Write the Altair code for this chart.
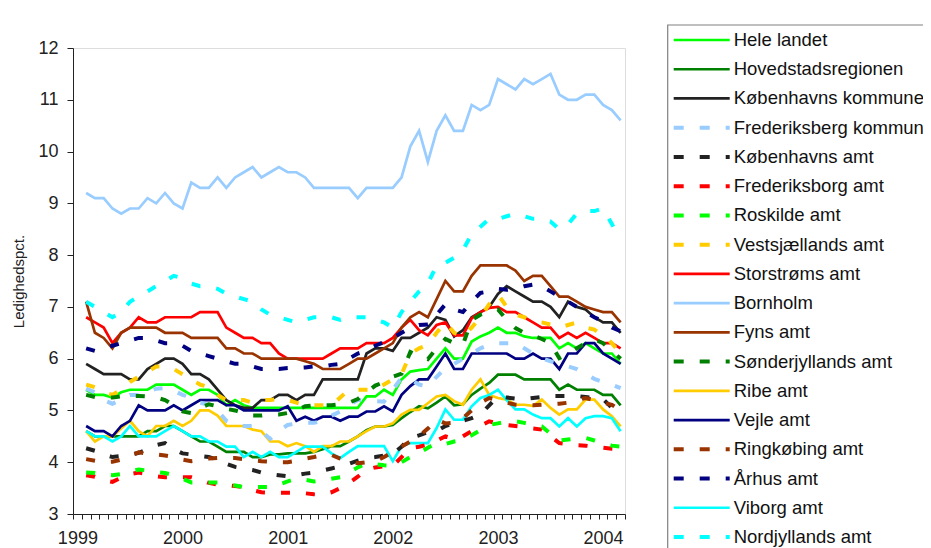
import altair as alt
import pandas as pd

# ---- data (monthly, category index 1..62) ----
hele_landet = [5.4,5.3,5.3,5.25,5.35,5.4,5.4,5.4,5.5,5.5,5.5,5.4,5.3,5.4,5.4,5.3,5.1,5.2,5.1,5.05,5.05,5.05,5.05,5.05,5.05,5.05,5.05,
               5.05,5.05,5.05,5.05,5.05,5.27,5.27,5.4,5.3,5.6,5.75,5.78,5.8,6.0,6.2,6.0,6.0,6.33,6.43,6.5,6.6,6.5,6.5,6.43,6.4,6.4,6.4,6.2,6.3,6.2,6.3,6.2,6.1,6.1,5.9]
hovedstad = [4.6,4.5,4.5,4.5,4.5,4.5,4.5,4.6,4.6,4.7,4.7,4.6,4.5,4.4,4.4,4.3,4.2,4.2,4.2,4.1,4.1,4.15,4.15,4.17,4.17,4.17,4.2,
             4.25,4.31,4.31,4.4,4.5,4.62,4.69,4.69,4.72,4.85,4.97,5.08,5.04,5.15,5.27,5.1,5.12,5.3,5.42,5.53,5.69,5.69,5.69,5.6,5.6,5.6,5.6,5.4,5.5,5.4,5.4,5.4,5.3,5.3,5.1]
kbh_kommune = [5.9,5.8,5.7,5.7,5.7,5.6,5.6,5.8,5.9,6.0,6.0,5.9,5.7,5.7,5.6,5.4,5.2,5.1,5.05,5.05,5.2,5.2,5.3,5.3,5.2,5.3,5.3,
               5.6,5.6,5.6,5.6,5.6,6.1,6.2,6.2,6.15,6.4,6.4,6.5,6.6,6.8,6.75,6.43,6.55,6.8,6.9,7.0,7.25,7.4,7.3,7.2,7.1,7.1,7.0,6.8,7.1,7.0,6.95,6.8,6.7,6.7,6.5]
frb_kommune = [5.42,5.35,5.2,5.13,5.2,5.3,5.3,5.35,5.42,5.43,5.38,5.3,5.25,5.15,5.11,5.0,4.8,4.72,4.7,4.7,4.6,4.45,4.6,4.72,4.75,4.76,4.76,
               4.8,4.9,4.98,5.1,5.2,5.2,5.18,5.17,5.4,5.63,5.6,5.5,5.46,5.65,5.82,5.9,6.0,6.1,6.2,6.27,6.3,6.3,6.3,6.2,6.1,6.01,5.95,5.9,5.85,5.8,5.7,5.61,5.55,5.5,5.43]
kbh_amt = [4.27,4.22,4.15,4.1,4.12,4.15,4.18,4.25,4.33,4.37,4.25,4.17,4.15,4.12,4.1,4.05,3.97,3.91,3.88,3.85,3.8,3.77,3.75,3.73,3.75,3.78,3.8,
           3.84,3.88,3.92,3.97,4.03,4.08,4.1,4.13,4.16,4.3,4.47,4.52,4.58,4.6,4.7,4.75,4.8,4.85,4.92,5.1,5.27,5.25,5.23,5.22,5.24,5.26,5.28,5.28,5.28,5.28,5.26,5.24,5.22,5.05,4.85]
frb_amt = [3.75,3.72,3.65,3.62,3.7,3.77,3.8,3.77,3.73,3.71,3.71,3.71,3.71,3.66,3.6,3.57,3.56,3.54,3.52,3.46,3.42,3.41,3.41,3.41,3.41,3.4,3.38,
           3.37,3.42,3.5,3.6,3.72,3.86,3.9,3.92,3.93,4.1,4.27,4.3,4.34,4.42,4.5,4.45,4.5,4.6,4.7,4.79,4.75,4.72,4.7,4.68,4.65,4.63,4.5,4.37,4.35,4.33,4.32,4.3,4.28,4.26,4.25]
roskilde = [3.8,3.79,3.76,3.75,3.77,3.82,3.86,3.84,3.81,3.79,3.75,3.68,3.61,3.61,3.61,3.61,3.58,3.55,3.52,3.52,3.52,3.52,3.57,3.63,3.68,3.66,3.63,
            3.65,3.68,3.71,3.8,3.9,3.98,3.96,3.94,3.93,4.0,4.1,4.18,4.28,4.37,4.35,4.4,4.43,4.52,4.62,4.72,4.75,4.78,4.79,4.76,4.72,4.69,4.55,4.42,4.44,4.46,4.47,4.42,4.37,4.32,4.3]
vestsj = [5.5,5.45,5.35,5.3,5.4,5.55,5.65,5.75,5.85,5.85,5.8,5.7,5.6,5.5,5.45,5.3,5.2,5.2,5.2,5.15,5.2,5.2,5.22,5.2,5.15,5.1,5.1,
          5.1,5.1,5.25,5.4,5.4,5.4,5.4,5.5,5.6,5.7,6.1,6.2,6.27,6.5,6.7,6.5,6.43,6.6,6.8,7.05,7.24,7.0,6.85,6.8,6.72,6.7,6.66,6.6,6.65,6.7,6.6,6.56,6.45,6.3,6.1]
storstrom = [6.8,6.7,6.6,6.3,6.5,6.6,6.8,6.7,6.7,6.8,6.8,6.8,6.8,6.9,6.9,6.9,6.6,6.5,6.4,6.4,6.3,6.3,6.1,6.0,6.0,6.0,6.0,
             6.0,6.1,6.2,6.2,6.2,6.3,6.3,6.3,6.4,6.6,6.75,6.55,6.45,6.65,6.7,6.45,6.45,6.78,6.9,6.98,7.0,6.9,6.9,6.8,6.7,6.6,6.6,6.4,6.5,6.4,6.5,6.4,6.3,6.3,6.2]
bornholm = [9.2,9.1,9.1,8.9,8.8,8.9,8.9,9.1,9.0,9.2,9.0,8.9,9.4,9.3,9.3,9.5,9.3,9.5,9.6,9.7,9.5,9.6,9.7,9.6,9.6,9.5,9.3,
            9.3,9.3,9.3,9.3,9.1,9.3,9.3,9.3,9.3,9.5,10.1,10.4,9.8,10.4,10.7,10.4,10.4,10.9,10.8,10.9,11.4,11.3,11.2,11.4,11.3,11.4,11.5,11.1,11.0,11.0,11.1,11.1,10.9,10.8,10.6]
fyn = [7.1,6.5,6.4,6.2,6.5,6.6,6.6,6.6,6.6,6.5,6.5,6.5,6.4,6.4,6.4,6.4,6.2,6.2,6.1,6.1,6.0,6.0,6.0,6.0,6.0,5.95,5.9,
       5.8,5.8,5.8,5.9,6.0,6.0,6.1,6.2,6.3,6.6,6.8,6.9,6.8,7.15,7.5,7.3,7.3,7.6,7.8,7.8,7.8,7.8,7.7,7.5,7.6,7.6,7.4,7.2,7.2,7.1,7.0,6.95,6.9,6.9,6.7]
sonderjyl = [5.3,5.26,5.25,5.25,5.27,5.28,5.28,5.27,5.25,5.2,5.1,4.98,4.95,5.05,5.12,5.08,5.03,5.0,4.95,4.9,4.9,4.92,4.92,4.95,5.0,5.08,5.1,
             5.1,5.1,5.12,5.15,5.22,5.35,5.48,5.55,5.65,5.71,6.13,6.05,5.99,6.2,6.38,6.3,6.27,6.75,6.85,6.9,6.95,6.75,6.59,6.5,6.45,6.38,6.3,6.01,6.1,6.2,6.3,6.37,6.3,6.15,6.0]
ribe = [4.6,4.4,4.5,4.5,4.65,4.8,4.6,4.5,4.7,4.7,4.8,4.7,4.8,5.0,5.0,4.9,4.7,4.7,4.7,4.63,4.6,4.4,4.4,4.31,4.37,4.31,4.2,
        4.31,4.31,4.4,4.4,4.5,4.6,4.69,4.69,4.75,4.92,5.01,5.01,5.14,5.27,5.3,5.18,5.11,5.4,5.6,5.3,5.24,5.21,5.11,5.11,5.09,5.21,5.05,4.92,5.02,5.02,5.21,5.21,5.02,4.89,4.69]
vejle = [4.7,4.6,4.6,4.5,4.7,4.8,5.1,5.0,5.0,5.0,5.1,5.0,5.1,5.2,5.2,5.2,5.1,5.1,5.0,5.0,5.0,5.0,5.0,5.08,4.8,4.88,4.8,
         4.88,4.88,4.8,4.88,4.88,4.98,4.98,5.08,4.98,5.3,5.47,5.6,5.6,5.85,6.1,5.8,5.8,6.1,6.1,6.1,6.1,6.1,6.0,6.0,6.1,6.0,6.0,5.8,6.1,6.1,6.3,6.3,6.1,6.0,5.9]
ringkob = [4.06,4.03,4.0,4.01,4.05,4.12,4.19,4.17,4.15,4.13,4.1,4.05,4.02,4.04,4.07,4.08,4.08,4.08,4.06,4.04,4.02,4.01,4.0,4.0,4.03,4.07,4.1,
           4.14,4.14,4.07,4.0,3.98,4.0,4.02,4.1,4.2,4.3,4.4,4.5,4.65,4.82,4.75,4.76,4.85,5.0,5.15,5.24,5.2,5.15,5.11,5.1,5.1,5.11,5.12,5.13,5.15,5.2,5.24,5.2,5.15,5.11,5.0]
aarhus = [6.2,6.15,6.2,6.25,6.3,6.35,6.4,6.4,6.35,6.3,6.3,6.25,6.15,6.1,6.05,6.0,5.95,5.9,5.9,5.85,5.8,5.8,5.8,5.82,5.82,5.83,5.85,
          5.85,5.88,5.9,6.0,6.1,6.15,6.25,6.32,6.4,6.5,6.6,6.65,6.66,6.85,7.05,6.95,6.9,7.1,7.27,7.3,7.35,7.33,7.35,7.4,7.43,7.4,7.3,7.2,7.1,7.0,6.9,6.8,6.72,6.6,6.53]
viborg = [4.6,4.5,4.5,4.4,4.5,4.7,4.5,4.5,4.5,4.6,4.7,4.6,4.5,4.5,4.4,4.4,4.3,4.3,4.1,4.2,4.1,4.2,4.1,4.1,4.2,4.3,4.3,
          4.3,4.17,4.08,4.2,4.31,4.31,4.31,4.31,4.02,4.31,4.37,4.37,4.37,4.66,5.02,4.82,4.82,5.08,5.24,5.3,5.4,5.2,5.02,5.02,4.92,4.85,4.85,4.69,4.85,4.69,4.85,4.89,4.89,4.85,4.6]
nordjyl = [7.1,7.0,6.9,6.8,6.9,7.1,7.2,7.3,7.4,7.5,7.6,7.55,7.45,7.4,7.4,7.35,7.25,7.2,7.15,7.1,6.95,6.85,6.8,6.75,6.7,6.75,6.8,
           6.8,6.8,6.75,6.8,6.8,6.8,6.75,6.7,6.6,6.9,7.1,7.3,7.45,7.8,7.85,7.95,8.1,8.4,8.55,8.7,8.7,8.75,8.8,8.75,8.7,8.7,8.65,8.5,8.6,8.8,8.85,8.85,8.9,8.6,8.3]

series_names = ["Hele landet", "Hovedstadsregionen", "Københavns kommune", "Frederiksberg kommune",
                "Københavns amt", "Frederiksborg amt", "Roskilde amt", "Vestsjællands amt",
                "Storstrøms amt", "Bornholm", "Fyns amt", "Sønderjyllands amt", "Ribe amt",
                "Vejle amt", "Ringkøbing amt", "Århus amt", "Viborg amt", "Nordjyllands amt"]
series_colors = ["#00FF00", "#008000", "#222222", "#99CCFF", "#222222", "#FF0000", "#00FF00", "#FFCC00",
                 "#FF0000", "#99CCFF", "#993300", "#008000", "#FFCC00", "#000080", "#993300", "#000080",
                 "#00FFFF", "#00FFFF"]
series_dashed = [False, False, False, True, True, True, True, True, False, False, False, True, False,
                 False, True, True, False, True]
series_values = [hele_landet, hovedstad, kbh_kommune, frb_kommune, kbh_amt, frb_amt, roskilde, vestsj,
                 storstrom, bornholm, fyn, sonderjyl, ribe, vejle, ringkob, aarhus, viborg, nordjyl]
year_labels_start = 1999

rows = []
for i, (name, col, dsh, vals) in enumerate(zip(series_names, series_colors, series_dashed, series_values)):
    for k, v in enumerate(vals, start=1):
        rows.append({"series": name, "order": i, "x": k + 0.5, "v": v, "color": col, "dashed": dsh})
df = pd.DataFrame(rows)

leg = pd.DataFrame({"idx": list(range(len(series_names))), "series": series_names,
                    "color": series_colors, "dashed": series_dashed})
leg["x0"] = 0.0
leg["x1"] = 1.0

FONT = "Liberation Sans"
W, H = 552, 466
TOTAL_W, TOTAL_H = 915, 540

xscale = alt.Scale(domain=[0, 63], nice=False, zero=False)
yscale = alt.Scale(domain=[3, 12], nice=False, zero=False)

label_expr = ("datum.value % 12 == 0 ? toString(" + str(year_labels_start) +
              " + datum.value / 12) : ''")
xaxis = alt.Axis(values=list(range(0, 64)), tickSize=5, labelOffset=4.38, labelPadding=10,
                 labelExpr=label_expr,
                 labelOverlap=False, labelFlush=False, labelBound=False, grid=False, title=None,
                 labelFontSize=18, labelFont=FONT, labelColor="#222222",
                 domainColor="#222222", tickColor="#222222")
yaxis = alt.Axis(values=list(range(3, 13)), tickSize=6, labelPadding=9, grid=False,
                 title="Ledighedspct.", titleFontSize=15, titleFont=FONT, titleFontWeight="normal",
                 titleColor="#222222", titlePadding=11, labelFontSize=18, labelFont=FONT,
                 labelColor="#222222", labelFlush=False, domainColor="#222222", tickColor="#222222")

base = alt.Chart(df)
solid = base.transform_filter("!datum.dashed").mark_line(strokeWidth=2.7).encode(
    x=alt.X("x:Q", scale=xscale, axis=xaxis),
    y=alt.Y("v:Q", scale=yscale, axis=yaxis),
    color=alt.Color("color:N", scale=None),
    detail="series:N",
    order="x:Q",
)
dashed = base.transform_filter("datum.dashed").mark_line(strokeWidth=4, strokeDash=[9, 16]).encode(
    x=alt.X("x:Q", scale=xscale, axis=xaxis),
    y=alt.Y("v:Q", scale=yscale, axis=yaxis),
    color=alt.Color("color:N", scale=None),
    detail="series:N",
    order="x:Q",
)
main = alt.layer(solid, dashed)

# ---- legend ----
lx = alt.Scale(domain=[0, 1], range=[600.7, 656.7])
ly = alt.Scale(domain=[0, 17], range=[-8, 489])
lbase = alt.Chart(leg)
frame = alt.Chart(pd.DataFrame({"a": [-0.107], "b": [10.0], "c": [-0.513], "d": [20.0]})).mark_rect(
    fill="white", stroke="#808080", strokeWidth=1.2).encode(
    x=alt.X("a:Q", scale=lx, axis=None), x2="b:Q",
    y=alt.Y("c:Q", scale=ly, axis=None), y2="d:Q")
lsolid = lbase.transform_filter("!datum.dashed").mark_rule(strokeWidth=2.7).encode(
    x=alt.X("x0:Q", scale=lx, axis=None), x2="x1:Q",
    y=alt.Y("idx:Q", scale=ly, axis=None),
    color=alt.Color("color:N", scale=None))
ldashed = lbase.transform_filter("datum.dashed").mark_rule(strokeWidth=4, strokeDash=[10, 16]).encode(
    x=alt.X("x0:Q", scale=lx, axis=None), x2="x1:Q",
    y=alt.Y("idx:Q", scale=ly, axis=None),
    color=alt.Color("color:N", scale=None))
ltext = lbase.mark_text(align="left", baseline="middle", dx=4, fontSize=18.5, font=FONT,
                        color="#111111").encode(
    x=alt.X("x1:Q", scale=lx, axis=None),
    y=alt.Y("idx:Q", scale=ly, axis=None),
    text="series:N")
legend = alt.layer(frame, lsolid, ldashed, ltext)

chart = alt.layer(main, legend).resolve_scale(x="independent", y="independent").properties(
    width=W, height=H,
    autosize=alt.AutoSizeParams(type="none"),
    padding={"left": 65, "top": 40, "right": TOTAL_W - 65 - W, "bottom": TOTAL_H - 40 - H},
).configure_view(stroke=None).configure(background="white")

chart.save("out.html", embed_options={"renderer": "svg", "actions": False})
